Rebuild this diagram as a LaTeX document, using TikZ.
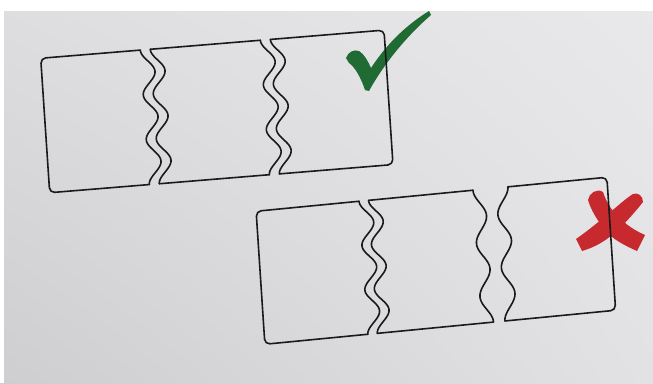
\documentclass[tikz,border=0pt]{standalone}
\usetikzlibrary{shadings}
\definecolor{ink}{HTML}{1A1A1A}
\definecolor{okgreen}{HTML}{1F6B33}
\definecolor{badred}{HTML}{C62A2F}
\definecolor{paperUL}{RGB}{222,222,224}
\definecolor{paperUR}{RGB}{233,233,235}
\definecolor{paperLL}{RGB}{206,206,208}
\definecolor{paperLR}{RGB}{226,226,228}
\tikzset{
  outline/.style={draw=ink, line width=1.6pt, line cap=round, line join=round},
  outercorner/.style={outline, rounded corners=5pt},
  wave/.style={outline, domain=0:#1, samples=140, variable=\t},
}
\begin{document}
\begin{tikzpicture}[x=1pt,y=-1pt]
\useasboundingbox (0,0) rectangle (653,383);
% paper
\shade[upper left=paperUL, upper right=paperUR, lower left=paperLL, lower right=paperLR]
  (0,0) rectangle (653,383);
\fill[white] (0,0) rectangle (653,11);
\fill[white] (0,0) rectangle (4,383);

% green tick
\fill[okgreen] (346,58) .. controls (348,52) and (354,49) .. (359,51)
  .. controls (364,54) and (368,61) .. (371,68)
  .. controls (388,42) and (408,24) .. (429,11) -- (431,15)
  .. controls (408,35) and (385,62) .. (369,91) -- (365,90)
  .. controls (361,78) and (355,67) .. (349,63) -- cycle;

% red cross
\fill[badred] (588,200) .. controls (589,193) and (597,188) .. (603,192)
  .. controls (607,204) and (613,213) .. (624,222)
  .. controls (631,228) and (638,232) .. (645,235) -- (637,251)
  .. controls (626,246) and (613,240) .. (605,230)
  .. controls (597,220) and (591,210) .. (588,200) -- cycle;
\fill[badred] (576,239) .. controls (589,230) and (602,219) .. (614,209)
  .. controls (621,203) and (628,197) .. (633,194)
  .. controls (638,192) and (643,196) .. (643,202)
  .. controls (636,211) and (627,221) .. (618,230)
  .. controls (607,240) and (596,247) .. (582,251) -- cycle;

% top strip: pieces fit together
\begin{scope}[shift={(40.7pt,-58.275pt)}, x={(1.00087pt,0.08207pt)}, y={(0.06667pt,-0.99593pt)}]
  \draw[outercorner] (99.5,0) -- (0,0) -- (0,135) -- (99.5,135);
  \draw[wave=135] plot ({99.5+6.6*(1-cos(8*\t))}, \t);
  \draw[outline] (109.5,0) -- (219.5,0);
  \draw[outline] (109.5,135) -- (219.5,135);
  \draw[wave=135] plot ({109.5+6.6*(1-cos(8*\t))}, \t);
  \draw[wave=135] plot ({219.5+6.6*(1-cos(8*\t))}, \t);
  \draw[outercorner] (229.5,0) -- (343,0) -- (343,135) -- (229.5,135);
  \draw[wave=135] plot ({229.5+6.6*(1-cos(8*\t))}, \t);
\end{scope}

% bottom strip: last piece does not fit
\begin{scope}[shift={(256.125pt,-211.25pt)}, x={(0.99929pt,0.09687pt)}, y={(0.06579pt,-1pt)}]
  \draw[outercorner] (103,0) -- (0,0) -- (0,133) -- (103,133);
  \draw[wave=133] plot ({103+6.6*(1-cos(8.1203*\t))}, \t);
  \draw[outline] (112.5,0) -- (217,0);
  \draw[outline] (112.5,133) -- (228.5,133);
  \draw[wave=133] plot ({112.5+6.6*(1-cos(8.1203*\t))}, \t);
  \draw[wave=133] plot ({217+5.9*(1-cos(6.7669*\t))}, \t);
  \draw[outercorner] (252,0) -- (351,0) -- (351,133) -- (240.5,133);
  \draw[wave=133] plot ({252-5.9*(1-cos(6.7669*\t))}, \t);
\end{scope}
\end{tikzpicture}
\end{document}
